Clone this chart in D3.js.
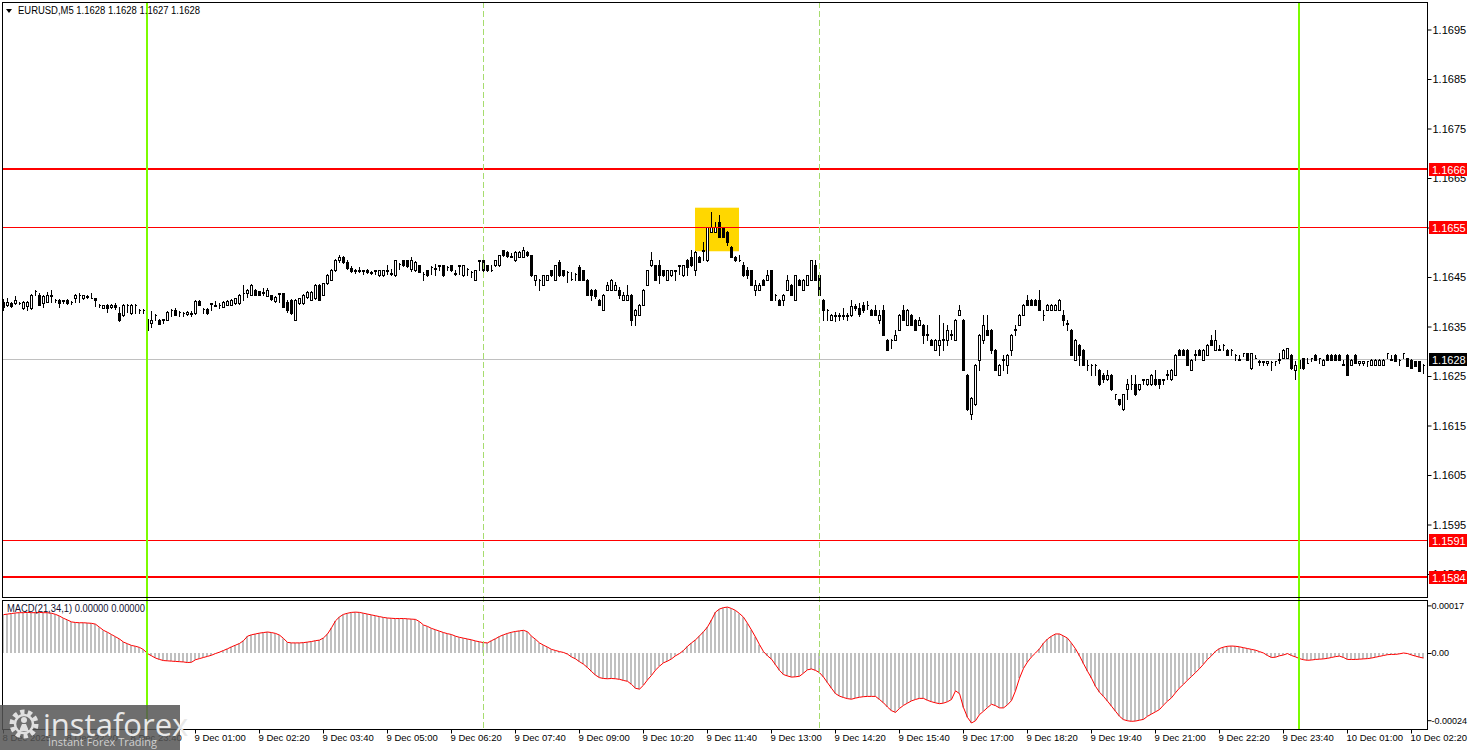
<!DOCTYPE html>
<html>
<head>
<meta charset="utf-8">
<script src="https://cdn.jsdelivr.net/npm/d3@7/dist/d3.min.js"></script>
<style>
html, body { margin: 0; padding: 0; background: #fff; }
svg { display: block; font-family: "Liberation Sans", Arial, sans-serif; }
</style>
</head>
<body>
<svg id="chart" width="1468" height="750"></svg>
<script>
// EURUSD M5, 8 Dec 21:00 -> 10 Dec 02:35, one value per 5-minute bar
// prices are in pips above 1.1600
const BASE = 1.16;
const firstBar = "2025-12-08 21:00";

const opens = [
  40.0, 39.4, 39.7, 39.7, 39.8, 38.7, 39.2, 38.7, 42.1, 41.4,
  39.7, 40.0, 41.2, 40.4, 40.4, 40.2, 40.4, 40.0, 40.7, 41.4,
  40.7, 41.2, 40.8, 40.7, 39.4, 38.8, 39.4, 38.9, 39.4, 37.8,
  37.4, 39.3, 37.7, 39.3, 38.3, 38.4, 36.5, 35.7, 37.3, 36.4,
  36.4, 36.4, 38.3, 38.4, 37.9, 37.7, 37.5, 37.7, 37.7, 40.2,
  38.5, 38.6, 39.6, 39.3, 39.3, 39.0, 39.4, 39.4, 39.7, 39.7,
  41.7, 41.7, 41.4, 42.4, 42.1, 41.8, 41.2, 41.3, 40.1, 41.6,
  41.7, 40.0, 40.4, 36.35, 39.7, 39.7, 40.9, 40.4, 40.7, 43.4,
  41.4, 43.7, 44.4, 46.4, 48.5, 49.0, 48.0, 46.9, 46.3, 46.5,
  46.2, 46.4, 46.1, 46.3, 45.4, 45.4, 46.4, 45.8, 45.4, 47.7,
  48.4, 48.4, 46.7, 46.4, 47.4, 45.7, 46.4, 47.0, 46.7, 47.3,
  47.4, 47.0, 47.4, 45.8, 47.3, 45.4, 46.7, 46.0, 44.4, 48.3,
  48.4, 47.4, 46.4, 47.4, 47.4, 50.4, 50.1, 49.2, 48.4, 49.1,
  49.1, 50.1, 49.4, 44.4, 44.3, 43.4, 44.4, 46.4, 44.4, 48.1,
  46.4, 46.0, 44.6, 45.6, 47.1, 46.4, 44.4, 42.4, 42.4, 40.4,
  38.4, 42.4, 42.4, 42.4, 42.4, 40.4, 40.4, 41.4, 37.4, 37.4,
  39.4, 43.4, 47.4, 47.4, 47.4, 46.4, 44.4, 45.4, 46.3, 47.3,
  45.4, 48.4, 49.1, 46.4, 49.1, 50.3, 48.4, 54.1, 54.1, 56.1,
  55.1, 54.1, 51.1, 49.1, 48.5, 47.4, 46.4, 46.4, 42.4, 42.4,
  44.4, 44.4, 46.4, 41.3, 40.4, 40.4, 42.4, 43.4, 40.4, 44.4,
  42.4, 43.4, 44.4, 47.4, 45.4, 40.4, 38.3, 36.35, 37.4, 37.2,
  37.4, 37.1, 37.3, 39.1, 38.7, 39.4, 39.4, 38.4, 38.4, 36.35,
  38.4, 32.3, 32.2, 32.3, 34.35, 38.4, 35.35, 37.35, 36.35, 35.35,
  35.35, 33.4, 32.3, 30.3, 31.3, 32.3, 32.3, 33.3, 32.3, 37.35,
  36.35, 25.3, 17.3, 19.3, 28.3, 32.3, 34.35, 34.35, 30.3, 25.3,
  28.3, 27.3, 30.3, 34.3, 35.35, 37.35, 40.4, 40.4, 40.4, 40.4,
  37.4, 38.4, 38.4, 38.4, 38.4, 37.35, 35.7, 34.35, 28.3, 31.3,
  30.3, 27.3, 27.2, 27.3, 26.3, 25.3, 24.3, 25.3, 21.3, 20.3,
  18.3, 22.3, 23.3, 23.3, 22.3, 24.2, 23.3, 23.3, 24.3, 24.3,
  24.2, 25.3, 24.3, 25.3, 30.3, 30.3, 30.3, 26.3, 29.3, 30.3,
  28.3, 29.3, 32.3, 30.3, 30.4, 31.2, 30.3, 30.2, 29.3, 28.4,
  29.6, 29.65, 26.6, 28.7, 28.0, 27.9, 27.6, 27.9, 27.95, 28.3,
  28.7, 28.7, 29.3, 26.3, 28.3, 28.65, 27.7, 28.6, 29.3, 28.6,
  27.3, 29.3, 29.3, 29.3, 29.3, 27.35, 29.3, 27.3, 29.3, 27.7,
  27.7, 27.95, 27.3, 27.3, 27.3, 27.3, 29.6, 28.4, 29.3, 28.25,
  29.6, 28.65, 28.3, 28.0, 28.0, 27.25
];

const highs = [
  40.5, 40.7, 39.9, 41.2, 40.0, 40.1, 40.1, 41.5, 42.3, 41.7,
  41.3, 42.05, 42.4, 40.5, 40.6, 40.4, 40.5, 40.1, 41.5, 41.7,
  41.4, 41.3, 41.7, 40.8, 39.5, 39.4, 39.5, 39.5, 39.7, 39.0,
  39.6, 39.5, 39.6, 39.5, 38.5, 38.5, 36.7, 38.2, 37.5, 36.5,
  36.6, 38.1, 38.5, 38.8, 38.1, 37.9, 38.1, 38.2, 40.3, 40.4,
  38.7, 38.7, 39.8, 40.2, 39.7, 40.1, 40.3, 40.5, 40.8, 41.5,
  43.4, 42.5, 43.5, 42.5, 42.2, 42.7, 42.7, 41.4, 41.1, 41.8,
  41.8, 40.4, 40.5, 40.5, 40.8, 41.5, 42.2, 42.2, 43.5, 43.5,
  43.8, 45.6, 46.7, 48.7, 49.5, 49.3, 48.4, 47.2, 46.7, 47.0,
  46.5, 46.7, 46.3, 46.5, 46.5, 46.5, 47.4, 46.7, 48.5, 47.8,
  48.5, 48.5, 49.1, 48.2, 47.5, 46.1, 46.5, 47.2, 47.7, 47.5,
  47.5, 47.2, 47.5, 46.4, 47.5, 47.5, 46.8, 46.2, 46.5, 48.5,
  48.6, 47.5, 47.4, 48.5, 49.5, 50.5, 50.2, 49.8, 50.2, 50.2,
  51.1, 50.2, 49.5, 45.5, 44.5, 45.5, 45.5, 46.5, 47.5, 48.4,
  46.5, 46.2, 46.1, 45.8, 47.4, 46.5, 44.5, 42.5, 42.5, 40.5,
  41.5, 44.05, 44.5, 44.05, 43.0, 42.0, 43.4, 41.5, 38.5, 39.5,
  42.5, 46.5, 50.1, 47.5, 48.4, 46.5, 46.5, 46.5, 46.5, 47.5,
  47.5, 48.6, 50.4, 50.2, 49.2, 52.1, 55.2, 58.1, 56.1, 57.5,
  55.2, 54.2, 51.2, 49.2, 49.4, 48.1, 47.1, 46.5, 44.4, 43.7,
  44.5, 46.4, 46.5, 41.5, 40.5, 41.5, 45.4, 43.5, 45.5, 44.5,
  44.5, 45.5, 48.5, 48.4, 45.5, 40.5, 38.5, 37.5, 38.0, 37.7,
  38.7, 37.7, 40.4, 39.5, 39.7, 40.05, 40.2, 38.5, 39.4, 38.4,
  39.4, 32.4, 32.4, 34.35, 37.5, 39.4, 38.5, 37.5, 36.5, 37.0,
  35.5, 35.3, 32.4, 32.4, 37.35, 35.7, 35.35, 34.2, 36.5, 39.4,
  36.5, 25.4, 20.7, 27.4, 33.5, 37.35, 37.35, 34.5, 30.4, 27.4,
  29.3, 29.4, 33.5, 35.35, 37.5, 39.5, 41.4, 40.5, 40.5, 42.4,
  38.4, 39.5, 39.5, 39.5, 40.5, 38.4, 36.35, 34.5, 32.4, 31.4,
  30.4, 28.3, 27.4, 27.4, 26.4, 25.7, 26.3, 25.4, 21.4, 20.4,
  21.4, 24.3, 25.3, 25.3, 23.4, 24.4, 24.4, 25.4, 26.3, 24.4,
  24.4, 26.3, 26.4, 29.4, 30.4, 30.4, 30.4, 28.4, 30.3, 30.4,
  30.4, 31.4, 33.3, 34.3, 31.3, 31.4, 30.4, 30.4, 29.4, 29.3,
  29.7, 29.7, 29.7, 29.3, 28.3, 28.05, 28.05, 28.0, 28.05, 29.65,
  30.4, 30.7, 29.4, 28.0, 28.4, 28.7, 28.65, 28.7, 29.35, 28.7,
  28.35, 29.35, 29.35, 29.35, 29.35, 28.3, 29.35, 28.35, 29.35, 28.05,
  28.05, 28.05, 28.35, 28.35, 28.35, 28.35, 29.7, 29.3, 29.35, 28.35,
  29.7, 28.7, 28.35, 28.05, 28.05, 27.35
];

const lows = [
  38.4, 39.2, 39.0, 39.6, 39.6, 38.6, 38.4, 38.6, 41.3, 39.3,
  39.0, 39.9, 40.0, 40.0, 39.0, 39.7, 39.6, 39.5, 40.0, 40.0,
  40.6, 40.7, 40.7, 39.1, 39.0, 38.7, 38.0, 38.7, 38.6, 36.2,
  37.2, 38.0, 37.6, 37.8, 37.7, 37.7, 34.0, 35.0, 36.35, 35.5,
  35.7, 36.3, 37.1, 37.3, 37.2, 37.2, 37.4, 37.2, 37.6, 39.3,
  37.8, 37.6, 38.4, 39.1, 38.7, 38.9, 39.3, 39.3, 39.6, 39.6,
  40.4, 40.9, 41.3, 41.3, 41.3, 41.4, 41.1, 40.4, 40.0, 40.0,
  38.9, 38.0, 37.6, 36.3, 39.6, 39.6, 40.8, 40.3, 40.6, 40.3,
  41.3, 43.6, 44.3, 46.2, 48.0, 47.8, 46.7, 46.0, 45.9, 46.1,
  45.7, 45.9, 45.7, 45.7, 45.3, 45.3, 45.7, 45.4, 45.3, 46.7,
  47.3, 47.1, 46.3, 46.3, 46.0, 44.4, 45.3, 45.7, 45.4, 46.4,
  45.3, 46.4, 46.3, 45.5, 45.7, 45.3, 45.4, 45.1, 44.3, 46.4,
  46.3, 46.3, 46.2, 47.3, 47.3, 49.3, 49.1, 49.0, 48.3, 49.0,
  49.0, 49.3, 45.3, 43.4, 42.4, 43.3, 44.3, 45.3, 44.3, 45.3,
  45.3, 44.05, 44.3, 44.4, 44.3, 44.3, 41.3, 40.4, 40.7, 39.3,
  38.3, 42.3, 42.3, 42.3, 40.7, 40.3, 40.3, 35.35, 35.35, 37.3,
  39.3, 43.3, 47.3, 44.3, 43.7, 45.3, 44.3, 45.3, 44.4, 45.7,
  45.3, 45.4, 47.3, 45.4, 48.0, 48.4, 48.3, 54.0, 54.0, 53.0,
  53.0, 51.4, 49.0, 48.3, 48.3, 45.3, 44.7, 43.3, 41.4, 42.3,
  43.3, 44.3, 40.3, 40.4, 39.3, 39.4, 42.3, 41.3, 40.3, 43.3,
  42.3, 43.3, 44.3, 44.3, 41.3, 36.35, 36.35, 36.3, 36.1, 36.4,
  36.5, 36.4, 37.2, 38.3, 37.1, 38.0, 38.6, 37.3, 37.3, 35.7,
  33.3, 30.2, 30.7, 32.2, 34.3, 36.3, 35.3, 35.3, 34.3, 35.3,
  31.7, 32.3, 31.2, 30.2, 29.3, 30.3, 31.3, 32.5, 32.2, 37.3,
  26.2, 18.2, 16.25, 19.2, 26.3, 31.7, 33.2, 29.7, 26.2, 25.2,
  26.3, 25.6, 29.3, 33.35, 35.3, 37.3, 39.3, 39.3, 39.3, 38.3,
  36.35, 38.3, 38.3, 38.3, 38.3, 35.35, 34.35, 29.2, 28.2, 27.3,
  27.2, 26.3, 25.3, 25.3, 23.2, 23.7, 24.2, 22.2, 20.3, 19.2,
  18.2, 20.3, 22.3, 21.2, 22.2, 23.3, 23.2, 23.2, 23.2, 22.6,
  23.3, 24.3, 24.2, 25.2, 29.2, 29.2, 27.2, 26.2, 28.3, 29.2,
  28.2, 29.2, 31.2, 30.2, 30.2, 30.3, 29.2, 29.3, 28.3, 28.2,
  29.0, 28.2, 26.5, 28.6, 27.3, 27.3, 27.3, 26.3, 27.3, 27.6,
  28.6, 28.6, 26.5, 24.3, 26.5, 26.5, 27.6, 28.0, 28.25, 27.64,
  27.25, 28.25, 28.25, 28.25, 28.25, 27.25, 25.25, 27.25, 27.6, 27.3,
  27.3, 27.0, 27.25, 27.25, 27.25, 27.25, 28.65, 28.25, 27.95, 27.3,
  28.65, 26.95, 26.55, 26.95, 25.95, 25.6
];

const closes = [
  39.0, 40.0, 39.2, 40.4, 39.7, 40.0, 40.0, 41.4, 42.2, 39.4,
  41.2, 41.4, 41.3, 40.4, 39.7, 40.3, 39.8, 40.0, 41.4, 41.3,
  41.3, 41.0, 40.8, 40.3, 39.4, 39.3, 38.7, 39.4, 39.0, 36.4,
  39.4, 39.4, 39.4, 39.4, 38.4, 38.3, 34.3, 36.35, 37.4, 35.6,
  36.5, 38.0, 38.4, 37.4, 38.0, 37.8, 38.0, 37.6, 40.2, 39.4,
  38.6, 37.7, 39.7, 39.2, 39.4, 40.0, 40.2, 40.4, 40.7, 41.4,
  41.8, 42.4, 43.4, 41.4, 41.4, 41.9, 42.4, 40.6, 41.0, 41.7,
  39.0, 38.4, 37.7, 40.4, 40.7, 41.4, 42.05, 42.05, 43.4, 40.4,
  43.7, 45.4, 46.4, 48.5, 49.0, 48.0, 46.9, 46.3, 46.5, 46.2,
  46.4, 46.1, 45.8, 46.4, 46.4, 46.4, 46.3, 45.7, 48.4, 47.7,
  47.4, 47.2, 48.5, 48.1, 46.1, 45.6, 45.4, 47.1, 46.8, 47.4,
  45.4, 47.1, 46.4, 45.7, 47.4, 47.4, 46.6, 46.1, 46.4, 48.4,
  46.4, 46.4, 46.5, 48.4, 49.4, 49.4, 49.2, 49.1, 50.1, 50.1,
  50.4, 49.4, 45.4, 45.4, 44.4, 45.4, 45.4, 45.4, 47.4, 45.4,
  45.4, 46.1, 44.5, 45.7, 44.4, 44.4, 41.4, 41.4, 41.1, 39.4,
  41.4, 43.4, 44.4, 43.4, 41.4, 41.4, 41.4, 36.35, 38.4, 39.4,
  42.4, 46.4, 48.4, 44.4, 45.4, 45.4, 46.4, 46.4, 46.4, 47.4,
  47.4, 47.1, 47.4, 50.1, 48.1, 50.5, 55.1, 55.1, 55.1, 53.1,
  53.1, 52.1, 49.1, 48.4, 48.4, 45.4, 45.4, 43.4, 43.4, 43.4,
  43.4, 45.4, 40.4, 41.4, 39.4, 41.4, 44.4, 41.4, 45.4, 43.4,
  44.4, 45.4, 48.4, 44.4, 41.4, 38.4, 38.4, 37.4, 37.2, 37.4,
  37.1, 37.3, 39.1, 38.7, 37.6, 38.4, 39.3, 37.35, 37.35, 37.35,
  33.35, 30.3, 32.3, 33.35, 37.35, 36.35, 38.4, 35.35, 34.35, 36.35,
  33.35, 33.3, 31.3, 32.3, 32.3, 32.4, 34.35, 33.4, 36.35, 38.4,
  26.3, 18.3, 20.6, 27.3, 33.35, 35.35, 33.35, 30.3, 26.3, 27.3,
  28.4, 29.3, 33.35, 34.4, 37.35, 39.4, 39.4, 39.4, 39.4, 38.4,
  37.35, 39.4, 39.4, 39.4, 40.4, 36.35, 35.6, 29.3, 32.3, 29.3,
  27.3, 27.2, 27.3, 27.2, 23.3, 24.3, 25.3, 22.3, 21.3, 19.3,
  21.3, 23.3, 23.4, 21.3, 23.3, 24.3, 24.3, 25.3, 23.3, 23.3,
  24.3, 25.4, 26.3, 29.3, 29.3, 29.3, 27.3, 28.3, 29.4, 29.3,
  30.3, 31.3, 31.3, 32.3, 30.3, 31.3, 29.3, 30.3, 29.25, 28.3,
  29.65, 28.3, 29.65, 28.65, 27.9, 28.0, 28.0, 27.8, 28.0, 28.4,
  30.3, 30.65, 26.6, 27.3, 26.6, 26.6, 27.64, 28.65, 28.3, 28.65,
  28.3, 28.3, 28.3, 28.3, 28.3, 27.3, 25.3, 28.3, 27.64, 28.0,
  28.0, 28.0, 28.3, 28.3, 28.3, 28.3, 29.65, 28.3, 28.0, 28.3,
  29.65, 27.0, 26.6, 27.0, 26.0, 27.3
];

// MACD(21,34,1) main line, in units of 0.00001
const macd = [
  13.7, 13.9, 14.1, 14.3, 14.4, 14.4, 14.5, 14.4, 14.4, 14.5,
  14.4, 14.4, 14.2, 13.8, 13.2, 12.4, 11.8, 11.1, 10.9, 10.8,
  10.8, 10.7, 10.6, 10.3, 9.2, 8.1, 7.4, 6.6, 5.8, 5.0,
  3.9, 3.3, 2.7, 2.4, 2.0, 1.2, -0.2, -1.0, -1.8, -2.3,
  -2.7, -2.8, -2.9, -3.0, -3.1, -3.2, -3.4, -3.3, -2.4, -2.0,
  -1.6, -1.2, -0.8, -0.2, 0.3, 0.9, 1.5, 2.2, 2.8, 3.4,
  4.4, 6.0, 6.5, 6.8, 7.1, 7.3, 7.5, 7.3, 7.0, 6.4,
  5.2, 3.8, 3.6, 3.6, 3.6, 3.7, 3.9, 4.1, 4.4, 4.6,
  5.4, 6.8, 9.0, 11.5, 12.9, 13.8, 14.2, 14.5, 14.6, 14.5,
  14.2, 13.9, 13.6, 13.3, 13.0, 12.7, 12.5, 12.4, 12.3, 12.3,
  12.3, 12.2, 12.1, 12.0, 11.2, 10.0, 9.5, 8.8, 8.3, 7.8,
  7.3, 6.9, 6.6, 6.0, 5.6, 5.3, 5.0, 4.7, 4.3, 4.0,
  3.7, 3.6, 4.4, 5.1, 5.9, 6.5, 7.0, 7.4, 7.7, 7.9,
  8.1, 7.6, 6.0, 4.9, 3.6, 2.8, 2.1, 1.3, 0.9, 0.5,
  0.2, -0.4, -1.4, -2.1, -3.1, -4.0, -5.2, -6.6, -7.9, -8.8,
  -9.1, -9.2, -9.1, -9.2, -9.4, -9.8, -10.1, -11.2, -12.6, -12.9,
  -11.5, -9.6, -8.0, -6.1, -4.7, -3.5, -2.9, -2.1, -1.0, -0.2,
  0.9, 2.4, 3.6, 4.7, 6.1, 7.6, 9.3, 11.8, 14.6, 15.7,
  16.2, 16.4, 15.9, 15.2, 14.1, 12.8, 10.6, 8.2, 5.7, 3.0,
  0.5, -1.0, -2.2, -4.2, -6.2, -7.7, -8.2, -8.6, -8.5, -8.3,
  -7.2, -6.0, -5.7, -6.2, -7.0, -8.6, -10.6, -12.6, -14.5, -15.4,
  -15.9, -16.3, -16.5, -16.1, -15.8, -15.6, -15.5, -15.5, -15.5, -16.6,
  -17.8, -19.3, -20.6, -21.2, -19.8, -18.7, -17.9, -17.1, -16.6, -16.2,
  -16.2, -16.9, -17.4, -17.8, -18.1, -17.9, -17.4, -16.6, -13.5, -14.5,
  -19.5, -23.0, -25.0, -24.2, -22.0, -20.8, -19.5, -18.3, -18.8, -19.6,
  -19.6, -18.5, -17.0, -13.5, -9.0, -5.5, -3.2, -1.4, 0.0, 1.5,
  3.5, 5.0, 6.0, 6.8, 6.8, 6.1, 5.3, 3.5, 1.5, -1.0,
  -3.8, -6.5, -9.0, -11.9, -14.0, -15.5, -17.2, -19.0, -20.8, -22.6,
  -23.8, -24.2, -24.4, -24.3, -24.0, -23.7, -22.6, -21.8, -21.0, -20.2,
  -18.6, -17.2, -16.0, -14.2, -12.5, -11.2, -9.7, -8.4, -7.0, -5.6,
  -4.0, -2.3, -1.0, 0.6, 1.6, 2.1, 2.4, 2.5, 2.4, 2.2,
  1.9, 1.6, 1.3, 1.0, 0.5, 0.0, -0.9, -1.6, -1.5, -1.0,
  -0.7, -0.2, -0.9, -1.4, -2.0, -2.4, -2.6, -2.5, -2.3, -2.2,
  -2.1, -1.9, -1.6, -1.3, -1.1, -1.6, -2.3, -2.3, -2.3, -2.2,
  -2.1, -2.0, -1.8, -1.5, -1.2, -0.9, -0.6, -0.5, -0.5, -0.3,
  0.0, -0.2, -0.7, -1.1, -1.5, -1.8
];

// time axis labels
const tickTimes = [
  "2025-12-08 21:00", "2025-12-08 22:20", "2025-12-08 23:40", "2025-12-09 01:00",
  "2025-12-09 02:20", "2025-12-09 03:40", "2025-12-09 05:00", "2025-12-09 06:20",
  "2025-12-09 07:40", "2025-12-09 09:00", "2025-12-09 10:20", "2025-12-09 11:40",
  "2025-12-09 13:00", "2025-12-09 14:20", "2025-12-09 15:40", "2025-12-09 17:00",
  "2025-12-09 18:20", "2025-12-09 19:40", "2025-12-09 21:00", "2025-12-09 22:20",
  "2025-12-09 23:40", "2025-12-10 01:00", "2025-12-10 02:20"
];
const tickLabels = [
  "8 Dec 2025", "8 Dec 22:20", "8 Dec 23:40", "9 Dec 01:00",
  "9 Dec 02:20", "9 Dec 03:40", "9 Dec 05:00", "9 Dec 06:20",
  "9 Dec 07:40", "9 Dec 09:00", "9 Dec 10:20", "9 Dec 11:40",
  "9 Dec 13:00", "9 Dec 14:20", "9 Dec 15:40", "9 Dec 17:00",
  "9 Dec 18:20", "9 Dec 19:40", "9 Dec 21:00", "9 Dec 22:20",
  "9 Dec 23:40", "10 Dec 01:00", "10 Dec 02:20"
];
const priceTicks = [1.1695, 1.1685, 1.1675, 1.1665, 1.1655, 1.1645, 1.1635, 1.1625, 1.1615, 1.1605, 1.1595, 1.1585];
const macdTicks = [17, 0, -24];

// drawn objects (labels show the price cut to 4 digits, like the terminal)
const levels = [
  { price: 1.16668, label: "1.1666", width: 2 },
  { price: 1.16551, label: "1.1655", width: 1 },
  { price: 1.15919, label: "1.1591", width: 1 },
  { price: 1.15844, label: "1.1584", width: 2 }
];
const bid = { price: 1.16284, label: "1.1628" };
const dayLines = ["2025-12-09 00:00", "2025-12-10 00:00"];
const sessionLines = ["2025-12-09 07:00", "2025-12-09 14:00"];
const highlight = { from: "2025-12-09 11:25", to: "2025-12-09 12:20", top: 1.1659, bottom: 1.16502 };

// ---------------------------------------------------------------
const parseTime = d3.timeParse("%Y-%m-%d %H:%M");
const t0 = parseTime(firstBar);
const barOf = s => (parseTime(s) - t0) / 300000;
const bars = closes.map((c, k) => ({
  k, o: BASE + opens[k] / 1e4, h: BASE + highs[k] / 1e4, l: BASE + lows[k] / 1e4, c: BASE + c / 1e4
}));

const W = 1468;
const left = 2, right = 1427;
const mainTop = 2, mainBottom = 597;
const subTop = 600, subBottom = 729;

const x = d3.scaleLinear().domain([0, bars.length - 1]).range([3, 3 + 4 * (bars.length - 1)]);
const y = d3.scaleLinear().domain([1.1585, 1.1695]).range([574, 29.5]);
const ym = d3.scaleLinear().domain([-24, 17]).range([720.2, 605.4]);

const svg = d3.select("#chart");
svg.append("rect").attr("width", W).attr("height", 750).attr("fill", "#fff");

const main = svg.append("g");
const sub = svg.append("g");

// highlight box (behind candles)
main.append("rect")
  .attr("x", x(barOf(highlight.from)))
  .attr("y", y(highlight.top))
  .attr("width", x(barOf(highlight.to)) - x(barOf(highlight.from)))
  .attr("height", y(highlight.bottom) - y(highlight.top))
  .attr("fill", "#ffd700");

// bid line
main.append("line")
  .attr("x1", left).attr("x2", right)
  .attr("y1", Math.round(y(bid.price)) + 0.5).attr("y2", Math.round(y(bid.price)) + 0.5)
  .attr("stroke", "#c0c0c0");

// session (dashed) lines
sessionLines.forEach(t => {
  const px = Math.round(x(barOf(t))) + 0.5;
  svg.append("line")
    .attr("x1", px).attr("x2", px).attr("y1", mainTop).attr("y2", subBottom)
    .attr("stroke", "#a6dc6e").attr("stroke-dasharray", "6,3");
});

// MACD histogram + line
sub.selectAll("rect.hist").data(macd).join("rect")
  .attr("class", "hist")
  .attr("x", (d, k) => Math.round(x(k)) - 1)
  .attr("width", 2)
  .attr("y", d => Math.min(ym(d), ym(0)))
  .attr("height", d => Math.abs(ym(d) - ym(0)))
  .attr("fill", "#c0c0c0");

sub.append("path")
  .datum(macd)
  .attr("fill", "none").attr("stroke", "#ff0000").attr("stroke-width", 1)
  .attr("d", d3.line().x((d, k) => x(k) + 0.5).y(d => ym(d)));

// candles
const cg = main.append("g").attr("shape-rendering", "crispEdges");
bars.forEach(b => {
  const cx = Math.round(x(b.k));
  cg.append("line")
    .attr("x1", cx + 0.5).attr("x2", cx + 0.5)
    .attr("y1", Math.round(y(b.h))).attr("y2", Math.round(y(b.l)) + 1)
    .attr("stroke", "#000");
  const yt = Math.round(y(Math.max(b.o, b.c))) + 0.5;
  const yb = Math.round(y(Math.min(b.o, b.c))) + 0.5;
  cg.append("path")
    .attr("d", `M${cx - 0.5},${yt}H${cx + 1.5}V${yb}H${cx - 0.5}Z`)
    .attr("fill", b.c >= b.o ? "#fff" : "#000")
    .attr("stroke", "#000");
});

// horizontal levels
levels.forEach(lv => {
  const py = Math.round(y(lv.price)) + (lv.width === 1 ? 0.5 : 0);
  main.append("line")
    .attr("x1", left).attr("x2", right).attr("y1", py).attr("y2", py)
    .attr("stroke", "#ff0000").attr("stroke-width", lv.width);
});

// day separators
dayLines.forEach(t => {
  const px = Math.round(x(barOf(t)));
  svg.append("line")
    .attr("x1", px).attr("x2", px).attr("y1", mainTop).attr("y2", subBottom)
    .attr("stroke", "#7cfc00").attr("stroke-width", 2);
});

// frames
svg.append("rect").attr("x", left + 0.5).attr("y", mainTop + 0.5)
  .attr("width", right - left).attr("height", mainBottom - mainTop)
  .attr("fill", "none").attr("stroke", "#000");
svg.append("rect").attr("x", left + 0.5).attr("y", subTop + 0.5)
  .attr("width", right - left).attr("height", subBottom - subTop)
  .attr("fill", "none").attr("stroke", "#000");

// price axis
const ya = svg.append("g").attr("transform", `translate(${right + 0.5},0)`)
  .call(d3.axisRight(y).tickValues(priceTicks).tickFormat(d3.format(".4f")).tickSize(4).tickPadding(1));
ya.select(".domain").remove();
ya.selectAll("text").attr("font-size", "11px").attr("font-family", "Liberation Sans, Arial, sans-serif").attr("fill", "#000");

// level tags on the price axis
const tag = (price, text, bg) => {
  const py = Math.round(y(price));
  svg.append("rect").attr("x", right + 2).attr("y", py - 6).attr("width", 38).attr("height", 13).attr("fill", bg);
  svg.append("text").attr("x", right + 5).attr("y", py + 4.5).attr("fill", "#fff")
    .attr("font-size", "11px").text(text);
};
levels.forEach(lv => tag(lv.price, lv.label, "#ff0000"));
tag(bid.price, bid.label, "#000");

// MACD axis (plain hyphen for the sign, as the terminal prints it)
const ma = svg.append("g").attr("transform", `translate(${right + 0.5},0)`)
  .call(d3.axisRight(ym).tickValues(macdTicks).tickSize(4).tickPadding(0)
    .tickFormat(d => d === 0 ? "0.00" : (d < 0 ? "-" : "") + (Math.abs(d) / 1e5).toFixed(5)));
ma.select(".domain").remove();
ma.selectAll("text").attr("font-size", "9px").attr("font-family", "Liberation Sans, Arial, sans-serif").attr("fill", "#000");

// time axis
const tickBars = tickTimes.map(barOf);
const xa = svg.append("g").attr("transform", `translate(0,${subBottom + 0.5})`)
  .call(d3.axisBottom(x).tickValues(tickBars).tickSize(4).tickPadding(1)
    .tickFormat((d, i) => tickLabels[i]));
xa.select(".domain").remove();
xa.selectAll("text").attr("text-anchor", "start").attr("dx", -1)
  .attr("font-size", "9.5px").attr("font-family", "Liberation Sans, Arial, sans-serif").attr("fill", "#000");

// header texts
svg.append("path").attr("d", "M6,9 L12,9 L9,13 Z").attr("fill", "#000");
svg.append("text").attr("x", 18).attr("y", 14).attr("font-size", "10px").attr("fill", "#000")
  .attr("textLength", 182).attr("lengthAdjust", "spacingAndGlyphs")
  .text("EURUSD,M5  1.1628 1.1628 1.1627 1.1628");
svg.append("text").attr("x", 7).attr("y", 612).attr("font-size", "10px").attr("fill", "#101030")
  .attr("textLength", 138).attr("lengthAdjust", "spacingAndGlyphs")
  .text("MACD(21,34,1) 0.00000 0.00000");

// watermark logo
const logo = svg.append("g");
logo.append("rect").attr("x", 0).attr("y", 705).attr("width", 180).attr("height", 45)
  .attr("fill", "#555").attr("opacity", 0.85);
logo.append("circle").attr("cx", 24).attr("cy", 724).attr("r", 12)
  .attr("fill", "none").attr("stroke", "#e0e0e0").attr("stroke-width", 5).attr("stroke-dasharray", "4.2,3.3");
logo.append("circle").attr("cx", 24).attr("cy", 724).attr("r", 9)
  .attr("fill", "none").attr("stroke", "#e0e0e0").attr("stroke-width", 2.5);
logo.append("circle").attr("cx", 24).attr("cy", 720).attr("r", 3).attr("fill", "#e0e0e0");
logo.append("path").attr("d", "M19,731 L22,724 L26,724 L29,731 Z").attr("fill", "#e0e0e0");
logo.append("text").attr("x", 43).attr("y", 736).attr("font-size", "31px")
  .attr("font-family", "Open Sans, Liberation Sans, sans-serif").attr("fill", "#e8e8e8")
  .text("instaforex");
logo.append("text").attr("x", 48).attr("y", 746).attr("font-size", "11px")
  .attr("font-family", "Open Sans, Liberation Sans, sans-serif").attr("fill", "#d0d0d0")
  .text("Instant Forex Trading");
</script>
</body>
</html>
